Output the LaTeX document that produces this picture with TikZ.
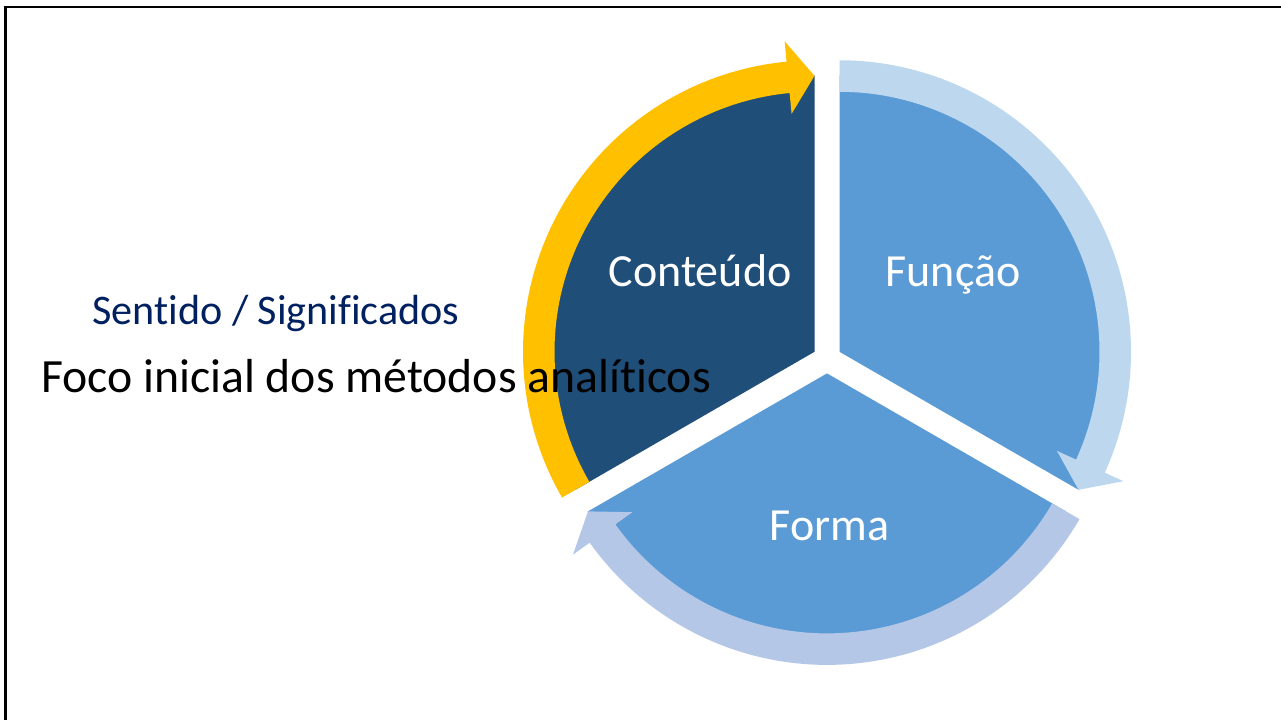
\documentclass[tikz,border=0pt]{standalone}
\usepackage{fontspec}
\setmainfont[Ligatures={NoCommon,NoContextual}]{Carlito}
\definecolor{darkblue}{HTML}{1F4E79}
\definecolor{midblue}{HTML}{5B9BD5}
\definecolor{ringtop}{HTML}{BDD7EE}
\definecolor{ringbot}{HTML}{B4C7E7}
\definecolor{ringyel}{HTML}{FFC000}
\definecolor{navytext}{HTML}{002060}
\begin{document}
\begin{tikzpicture}[x=0.75pt,y=0.75pt,
  seglabel/.style={text=white,font=\fontsize{34.5pt}{40pt}\selectfont,inner sep=0pt,anchor=base},
  sidelabel/.style={inner sep=0pt,anchor=base}]
\useasboundingbox (0,0) rectangle (1281,720);
\fill[white] (0,0) rectangle (1281,720);
% frame (top and left edges visible)
\draw[line width=1.9pt] (5.5,-5) -- (5.5,713) -- (1290,713);
% sector vertices
\coordinate (V1) at (814.5,368.2);
\coordinate (V2) at (839.5,368.2);
\coordinate (V3) at (827,346.6);
% sectors
\fill[darkblue] (V1) -- ++(90:276.5) arc[start angle=90,end angle=210,radius=276.5] -- cycle;
\fill[midblue] (V2) -- ++(-30:276.5) arc[start angle=-30,end angle=90,radius=276.5] -- cycle;
\fill[midblue] (V3) -- ++(210:276.5) arc[start angle=210,end angle=330,radius=276.5] -- cycle;
% circular arrows
\begin{scope}[shift={(V1)}]
\fill[ringyel] (210:291.5) arc[start angle=210,end angle=95.5,radius=291.5] -- (95.5:312) -- (90:276) -- (95.5:239) -- (95.5:260) arc[start angle=95.5,end angle=210,radius=260] -- cycle;
\end{scope}
\begin{scope}[shift={(V2)}]
\fill[ringtop] (90:291.5) arc[start angle=90,end angle=-24.5,radius=291.5] -- (-24.5:312) -- (-30:276) -- (-24.5:239) -- (-24.5:260) arc[start angle=-24.5,end angle=90,radius=260] -- cycle;
\end{scope}
\begin{scope}[shift={(V3)}]
\fill[ringbot] (330:291.5) arc[start angle=330,end angle=215.5,radius=291.5] -- (215.5:312) -- (210:276) -- (215.5:239) -- (215.5:260) arc[start angle=215.5,end angle=330,radius=260] -- cycle;
\end{scope}
% labels
\node[seglabel] (conteudo) at (700,433.3) {Conteúdo};
\node[seglabel] (funcao) at (953,433.3) {Função};
\node[seglabel] (forma) at (829.5,179.3) {Forma};
\node[sidelabel,text=navytext,font=\fontsize{31.6pt}{38pt}\selectfont] (sentido) at (276,395) {Sentido / Significados};
\node[sidelabel,text=black,font=\fontsize{35.8pt}{42pt}\selectfont] (foco) at (376,327.7) {Foco inicial dos métodos analíticos};
\end{tikzpicture}
\end{document}
